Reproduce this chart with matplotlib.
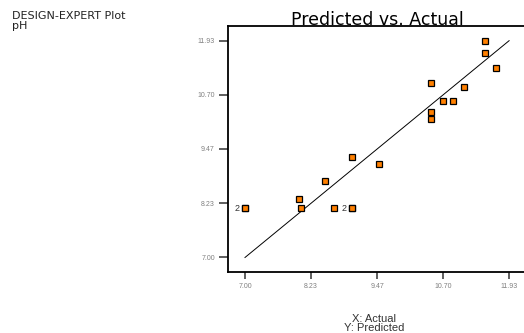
import numpy as np
import matplotlib
matplotlib.use('Agg')
import matplotlib.pyplot as plt
from collections import Counter

plt.rcParams['font.family'] = ['Liberation Sans', 'DejaVu Sans']

# actual vs predicted pH for each run
actual = [7.00, 7.00, 8.00, 8.05, 8.50, 8.67, 9.00, 9.00, 9.00, 9.50,
          10.48, 10.48, 10.48, 10.69, 10.88, 11.08, 11.48, 11.48, 11.68]
predicted = [8.12, 8.12, 8.33, 8.12, 8.74, 8.12, 8.12, 8.12, 9.29, 9.13,
             10.96, 10.30, 10.15, 10.55, 10.55, 10.87, 11.93, 11.66, 11.32]
ticks = [7.00, 8.23, 9.47, 10.70, 11.93]

fig = plt.figure(figsize=(5.24, 3.33), dpi=100)
ax = fig.add_axes([228/524, 1-272/333, 299/524, 246/333])

ax.plot([ticks[0], ticks[-1]], [ticks[0], ticks[-1]], color='black', lw=0.7)
ax.plot(actual, predicted, 's', ms=4.2, mfc='#ff8000', mec='black', mew=0.9,
        linestyle='none')

# mark coincident runs with their count
counts = Counter(zip(actual, predicted))
for (xv, yv), n in counts.items():
    if n > 1:
        ax.annotate(str(n), (xv, yv), xytext=(-4, 0), textcoords='offset points',
                    ha='right', va='center', fontsize=6.5, color='#333333')

ax.set_xlim(6.683, 12.264)
ax.set_ylim(6.670, 12.264)
ax.set_xticks(ticks)
ax.set_yticks(ticks)
ax.set_xticklabels(['%.2f' % t for t in ticks])
ax.set_yticklabels(['%.2f' % t for t in ticks])
ax.tick_params(axis='x', direction='out', length=5, width=1.1, color='#333333',
               labelsize=5, labelcolor='#808080', pad=3)
ax.tick_params(axis='y', direction='out', length=6.5, width=1.1, color='#333333',
               labelsize=5, labelcolor='#808080', pad=3)
for s in ['left', 'bottom', 'top']:
    ax.spines[s].set_linewidth(1.3)
ax.spines['right'].set_visible(False)

fig.text(377/524, 1-25/333, 'Predicted vs. Actual', ha='center', va='baseline',
         fontsize=12.5, family='DejaVu Sans')
fig.text(12/524, 1-19/333, 'DESIGN-EXPERT Plot', ha='left', va='baseline',
         fontsize=8, color='#222222', family='DejaVu Sans')
fig.text(12/524, 1-29/333, 'pH', ha='left', va='baseline',
         fontsize=8, color='#222222', family='DejaVu Sans')
fig.text(374/524, 1-322/333, 'X: Actual', ha='center', va='baseline',
         fontsize=8, color='#333333')
fig.text(374/524, 1-331/333, 'Y: Predicted', ha='center', va='baseline',
         fontsize=8, color='#333333')

fig.savefig('out.png', dpi=100)
